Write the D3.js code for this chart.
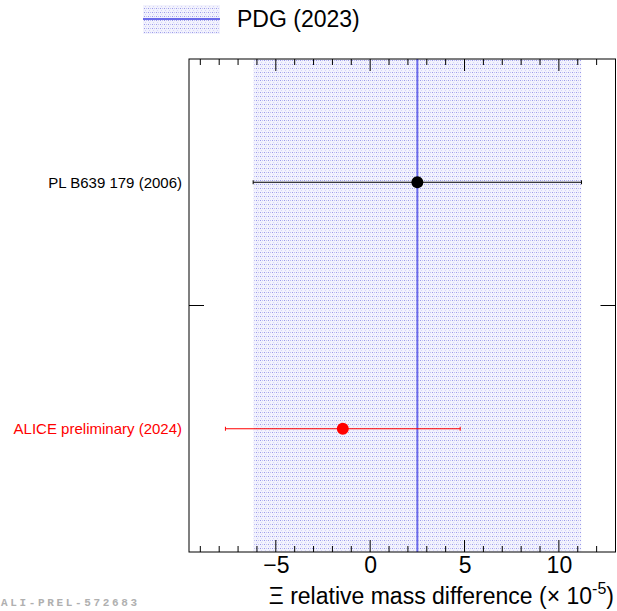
<!DOCTYPE html>
<html><head><meta charset="utf-8">
<script src="https://cdn.jsdelivr.net/npm/d3@7"></script>
<style>body{margin:0;background:#fff}svg{display:block}</style>
</head><body>
<script>
const labels = ["PL B639 179 (2006)", "ALICE preliminary (2024)"];
const values = [2.5, -1.45];
const errors = [8.7, 6.22];
const colors = ["#000000", "#ff0000"];
const pdgValue = 2.5;
const pdgError = 8.68;
const majorTicks = [-5, 0, 5, 10];
const tickLabels = ["\u22125", "0", "5", "10"];

const W = 617, H = 611;
const L = 189, R = 615.5, T = 59, B = 552;
const svg = d3.select("body").append("svg").attr("width", W).attr("height", H);

const defs = svg.append("defs");
const pat = defs.append("pattern").attr("id", "hatch").attr("patternUnits", "userSpaceOnUse")
  .attr("width", 4).attr("height", 4);
pat.append("rect").attr("width", 4).attr("height", 4).attr("fill", "#f2f2fd");
pat.append("rect").attr("x", 0).attr("y", 0).attr("width", 1).attr("height", 1).attr("fill", "#9a9aea");
pat.append("rect").attr("x", 2).attr("y", 0).attr("width", 1).attr("height", 1).attr("fill", "#c0c0f3");
pat.append("rect").attr("x", 1).attr("y", 2).attr("width", 1).attr("height", 1).attr("fill", "#d6d6f8");

const x = d3.scaleLinear().domain([-9.6, 13.0]).range([L, R]);
const y = d3.scaleLinear().domain([0, 2]).range([T, B]);

// PDG band
svg.append("rect").attr("x", x(pdgValue - pdgError)).attr("y", T)
  .attr("width", x(pdgValue + pdgError) - x(pdgValue - pdgError)).attr("height", B - T)
  .attr("fill", "url(#hatch)");
svg.append("line").attr("x1", x(pdgValue)).attr("x2", x(pdgValue)).attr("y1", T).attr("y2", B)
  .attr("stroke", "#6b6bea").attr("stroke-width", 2);

// frame
svg.append("rect").attr("x", L).attr("y", T).attr("width", R - L).attr("height", B - T)
  .attr("fill", "none").attr("stroke", "#000").attr("stroke-width", 1);

// ticks
const minor = d3.range(-9, 13 + 0.001, 1);
minor.forEach(v => {
  const isMajor = v % 5 === 0;
  const len = isMajor ? 12 : 6;
  svg.append("line").attr("x1", x(v)).attr("x2", x(v)).attr("y1", B).attr("y2", B - len).attr("stroke", "#000");
  svg.append("line").attr("x1", x(v)).attr("x2", x(v)).attr("y1", T).attr("y2", T + len).attr("stroke", "#000");
});
const xAxis = d3.axisBottom(x).tickValues(majorTicks).tickSize(0).tickPadding(5)
  .tickFormat((d, i) => tickLabels[i]);
const gx = svg.append("g").attr("transform", `translate(0,${B})`).call(xAxis);
gx.select(".domain").remove();
gx.selectAll("text").attr("font-family", "Liberation Sans, Arial, sans-serif").attr("font-size", 23).attr("fill", "#000");

// y ticks
svg.append("line").attr("x1", L).attr("x2", L + 15).attr("y1", y(1)).attr("y2", y(1)).attr("stroke", "#000");
svg.append("line").attr("x1", R - 15).attr("x2", R).attr("y1", y(1)).attr("y2", y(1)).attr("stroke", "#000");

// data points
labels.forEach((lab, i) => {
  const yc = y(i + 0.5);
  const g = svg.append("g");
  g.append("line").attr("x1", x(values[i] - errors[i])).attr("x2", x(values[i] + errors[i]))
    .attr("y1", yc).attr("y2", yc).attr("stroke", colors[i]).attr("stroke-width", 1);
  [values[i] - errors[i], values[i] + errors[i]].forEach(v => {
    g.append("line").attr("x1", x(v)).attr("x2", x(v)).attr("y1", yc - 2).attr("y2", yc + 2)
      .attr("stroke", colors[i]).attr("stroke-width", 1);
  });
  g.append("circle").attr("cx", x(values[i])).attr("cy", yc).attr("r", 6).attr("fill", colors[i]);
  svg.append("text").attr("x", 182).attr("y", yc).attr("dy", "0.35em").attr("text-anchor", "end")
    .attr("font-family", "Liberation Sans, Arial, sans-serif").attr("font-size", 15)
    .attr("fill", colors[i]).text(lab);
});

// axis title
const title = svg.append("text").attr("x", 614).attr("y", 604).attr("text-anchor", "end")
  .attr("font-family", "Liberation Sans, Arial, sans-serif").attr("font-size", 23).attr("fill", "#000");
title.append("tspan").text("\u039E relative mass difference (\u00D7 10");
title.append("tspan").attr("dy", -10).attr("font-size", 16).text("-5");
title.append("tspan").attr("dy", 10).text(")");

// legend
svg.append("rect").attr("x", 143).attr("y", 5).attr("width", 77).attr("height", 29).attr("fill", "url(#hatch)");
svg.append("line").attr("x1", 143).attr("x2", 220).attr("y1", 19).attr("y2", 19)
  .attr("stroke", "#6b6bea").attr("stroke-width", 2);
svg.append("text").attr("x", 237).attr("y", 27).attr("font-family", "Liberation Sans, Arial, sans-serif")
  .attr("font-size", 23).attr("fill", "#000").text("PDG (2023)");

// watermark
svg.append("text").attr("x", 1).attr("y", 606).attr("font-family", "Liberation Mono, DejaVu Sans Mono, monospace")
  .attr("font-size", 11).attr("font-weight", "bold").attr("fill", "#b0b0b0")
  .attr("textLength", 136).attr("lengthAdjust", "spacing").text("ALI-PREL-572683");
</script>
</body></html>
